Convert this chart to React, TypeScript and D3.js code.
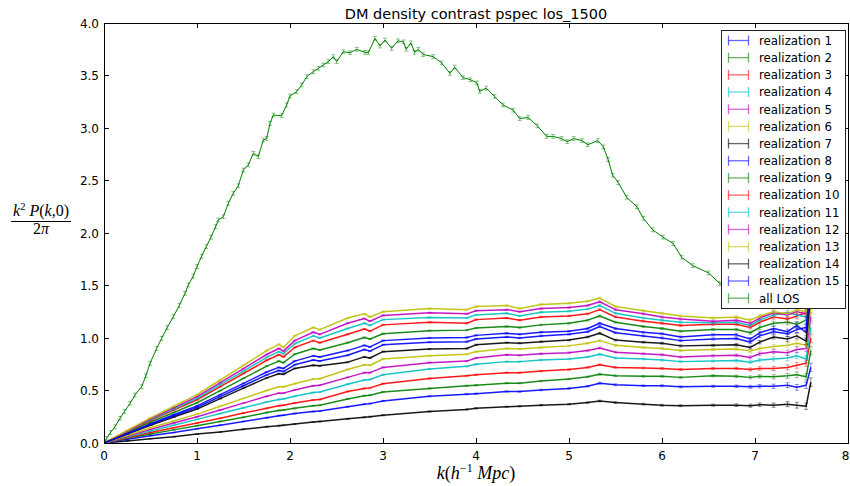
import React from 'react';
import * as d3 from 'd3';

const W = 850;
const H = 486;

const TITLE = 'DM density contrast pspec los_1500';

const xTickValues = [0, 1, 2, 3, 4, 5, 6, 7, 8];
const xTickLabels = ['0', '1', '2', '3', '4', '5', '6', '7', '8'];
const yTickValues = [0, 0.5, 1, 1.5, 2, 2.5, 3, 3.5, 4];
const yTickLabels = ['0.0', '0.5', '1.0', '1.5', '2.0', '2.5', '3.0', '3.5', '4.0'];

// k grid shared by the 15 realizations
const kGrid = [0, 0.25, 0.5, 0.75, 1.0, 1.25, 1.5, 1.75, 1.88, 1.93, 2.05, 2.25, 2.32, 2.62, 2.8, 2.86, 3.0, 3.5, 3.9, 4.0, 4.33, 4.47, 4.7, 5.0, 5.2, 5.33, 5.5, 5.8, 6.0, 6.2, 6.55, 6.8, 6.95, 7.05, 7.2, 7.35, 7.45, 7.55, 7.6];

const real1 = [0, 0.092, 0.184, 0.269, 0.353, 0.461, 0.568, 0.676, 0.72, 0.71, 0.78, 0.83, 0.82, 0.88, 0.93, 0.915, 0.975, 1.0, 1.005, 1.025, 1.045, 1.035, 1.055, 1.065, 1.09, 1.14, 1.09, 1.055, 1.04, 1.01, 1.03, 1.03, 0.99, 1.05, 1.09, 1.06, 1.12, 1.05, 1.55];
const real2 = [0, 0.1, 0.2, 0.291, 0.383, 0.499, 0.616, 0.732, 0.78, 0.765, 0.845, 0.9, 0.885, 0.955, 1.005, 0.99, 1.04, 1.07, 1.075, 1.095, 1.11, 1.1, 1.125, 1.14, 1.17, 1.21, 1.15, 1.11, 1.09, 1.065, 1.08, 1.08, 1.05, 1.1, 1.14, 1.15, 1.13, 1.17, 1.65];
const real3 = [0, 0.107, 0.215, 0.313, 0.412, 0.537, 0.662, 0.788, 0.84, 0.82, 0.91, 0.975, 0.955, 1.035, 1.085, 1.065, 1.125, 1.15, 1.14, 1.175, 1.19, 1.17, 1.2, 1.21, 1.23, 1.27, 1.2, 1.16, 1.14, 1.12, 1.13, 1.13, 1.1, 1.15, 1.2, 1.18, 1.21, 1.24, 1.75];
const real4 = [0, 0.111, 0.222, 0.324, 0.426, 0.556, 0.685, 0.815, 0.87, 0.85, 0.945, 1.02, 1.0, 1.09, 1.14, 1.12, 1.175, 1.195, 1.19, 1.22, 1.235, 1.21, 1.245, 1.255, 1.275, 1.31, 1.235, 1.19, 1.17, 1.15, 1.145, 1.15, 1.12, 1.17, 1.22, 1.24, 1.22, 1.2, 1.8];
const real5 = [0, 0.115, 0.23, 0.335, 0.441, 0.575, 0.709, 0.843, 0.9, 0.875, 0.975, 1.055, 1.035, 1.14, 1.185, 1.16, 1.215, 1.24, 1.23, 1.26, 1.27, 1.25, 1.28, 1.29, 1.31, 1.345, 1.27, 1.23, 1.2, 1.18, 1.16, 1.17, 1.14, 1.19, 1.24, 1.22, 1.25, 1.23, 1.85];
const real6 = [0, 0.12, 0.24, 0.35, 0.46, 0.6, 0.74, 0.88, 0.94, 0.91, 1.02, 1.1, 1.08, 1.19, 1.23, 1.2, 1.25, 1.28, 1.27, 1.3, 1.31, 1.28, 1.32, 1.33, 1.35, 1.38, 1.3, 1.26, 1.235, 1.21, 1.19, 1.2, 1.17, 1.21, 1.25, 1.23, 1.27, 1.25, 1.95];
const real7 = [0, 0.02, 0.04, 0.06, 0.085, 0.105, 0.13, 0.155, 0.165, 0.17, 0.18, 0.2, 0.205, 0.23, 0.245, 0.25, 0.265, 0.3, 0.32, 0.33, 0.345, 0.35, 0.36, 0.37, 0.385, 0.4, 0.385, 0.37, 0.36, 0.355, 0.36, 0.36, 0.355, 0.365, 0.36, 0.37, 0.36, 0.35, 0.58];
const real8 = [0, 0.035, 0.07, 0.1, 0.135, 0.17, 0.205, 0.24, 0.26, 0.265, 0.28, 0.3, 0.305, 0.345, 0.37, 0.375, 0.4, 0.445, 0.465, 0.47, 0.49, 0.49, 0.505, 0.52, 0.54, 0.57, 0.555, 0.545, 0.545, 0.535, 0.54, 0.54, 0.535, 0.54, 0.54, 0.55, 0.53, 0.55, 0.72];
const real9 = [0, 0.045, 0.085, 0.125, 0.165, 0.205, 0.245, 0.29, 0.31, 0.315, 0.33, 0.355, 0.36, 0.42, 0.45, 0.455, 0.485, 0.52, 0.545, 0.55, 0.57, 0.57, 0.59, 0.61, 0.63, 0.655, 0.64, 0.635, 0.635, 0.625, 0.64, 0.635, 0.625, 0.635, 0.63, 0.64, 0.65, 0.63, 0.88];
const real10 = [0, 0.05, 0.1, 0.145, 0.19, 0.235, 0.285, 0.33, 0.355, 0.36, 0.38, 0.41, 0.415, 0.49, 0.52, 0.525, 0.565, 0.615, 0.64, 0.65, 0.67, 0.67, 0.685, 0.7, 0.72, 0.745, 0.72, 0.715, 0.71, 0.7, 0.71, 0.71, 0.7, 0.71, 0.71, 0.72, 0.74, 0.76, 1.0];
const real11 = [0, 0.058, 0.115, 0.17, 0.225, 0.28, 0.335, 0.39, 0.415, 0.42, 0.445, 0.48, 0.485, 0.56, 0.6, 0.605, 0.65, 0.705, 0.73, 0.75, 0.775, 0.775, 0.79, 0.8, 0.82, 0.845, 0.81, 0.8, 0.79, 0.775, 0.78, 0.785, 0.77, 0.79, 0.8, 0.81, 0.83, 0.8, 1.1];
const real12 = [0, 0.065, 0.13, 0.19, 0.25, 0.315, 0.38, 0.445, 0.475, 0.475, 0.505, 0.545, 0.55, 0.625, 0.67, 0.67, 0.72, 0.765, 0.78, 0.81, 0.84, 0.835, 0.85, 0.86, 0.88, 0.905, 0.865, 0.85, 0.84, 0.82, 0.83, 0.835, 0.815, 0.85, 0.87, 0.86, 0.89, 0.9, 1.2];
const real13 = [0, 0.072, 0.145, 0.21, 0.275, 0.35, 0.425, 0.5, 0.535, 0.535, 0.565, 0.61, 0.612, 0.7, 0.745, 0.74, 0.8, 0.83, 0.845, 0.87, 0.9, 0.895, 0.91, 0.925, 0.95, 0.975, 0.93, 0.91, 0.9, 0.88, 0.89, 0.895, 0.875, 0.9, 0.92, 0.93, 0.95, 0.93, 1.3];
const real14 = [0, 0.085, 0.169, 0.247, 0.324, 0.423, 0.522, 0.62, 0.66, 0.655, 0.71, 0.74, 0.735, 0.77, 0.82, 0.81, 0.87, 0.895, 0.9, 0.935, 0.955, 0.95, 0.965, 0.98, 1.01, 1.045, 0.98, 0.96, 0.95, 0.925, 0.93, 0.935, 0.91, 0.96, 1.01, 0.99, 1.02, 0.97, 1.4];
const real15 = [0, 0.088, 0.177, 0.258, 0.339, 0.442, 0.545, 0.649, 0.69, 0.68, 0.745, 0.79, 0.78, 0.835, 0.89, 0.875, 0.935, 0.96, 0.965, 0.99, 1.01, 1.0, 1.02, 1.035, 1.06, 1.11, 1.05, 1.02, 1.0, 0.975, 0.99, 0.995, 0.96, 1.02, 1.06, 1.04, 1.08, 1.1, 1.5];

// approximate error-bar half heights for realizations at each k
const realErr = [0, 0.003, 0.003, 0.003, 0.004, 0.004, 0.004, 0.005, 0.005, 0.005, 0.005, 0.005, 0.005, 0.005, 0.005, 0.005, 0.006, 0.006, 0.006, 0.006, 0.006, 0.006, 0.007, 0.007, 0.007, 0.008, 0.008, 0.008, 0.009, 0.009, 0.01, 0.012, 0.014, 0.016, 0.02, 0.024, 0.028, 0.03, 0.04];

// all LOS curve
const losK = [0, 0.029, 0.07, 0.118, 0.172, 0.22, 0.28, 0.333, 0.405, 0.45, 0.495, 0.566, 0.62, 0.68, 0.745, 0.81, 0.871, 0.907, 0.96, 1.0, 1.05, 1.1, 1.15, 1.2, 1.229, 1.283, 1.337, 1.39, 1.444, 1.498, 1.552, 1.606, 1.659, 1.713, 1.749, 1.785, 1.821, 1.91, 1.964, 2.0, 2.072, 2.126, 2.18, 2.251, 2.305, 2.358, 2.412, 2.466, 2.502, 2.573, 2.645, 2.717, 2.806, 2.842, 2.914, 2.968, 3.022, 3.093, 3.16, 3.22, 3.25, 3.3, 3.34, 3.38, 3.43, 3.54, 3.63, 3.72, 3.77, 3.86, 3.94, 4.01, 4.04, 4.11, 4.2, 4.29, 4.4, 4.47, 4.56, 4.66, 4.76, 4.83, 4.92, 4.98, 5.05, 5.14, 5.2, 5.31, 5.37, 5.42, 5.47, 5.53, 5.62, 5.73, 5.8, 5.9, 6.01, 6.12, 6.21, 6.33, 6.5, 6.62, 6.75, 6.9, 7.05, 7.2, 7.35, 7.45, 7.55, 7.6];
const losP = [0, 0.045, 0.1, 0.155, 0.235, 0.3, 0.378, 0.457, 0.536, 0.64, 0.759, 0.9, 0.997, 1.1, 1.203, 1.31, 1.425, 1.505, 1.59, 1.68, 1.78, 1.87, 1.96, 2.06, 2.124, 2.155, 2.283, 2.378, 2.45, 2.6, 2.648, 2.759, 2.727, 2.886, 2.9, 3.044, 3.124, 3.117, 3.219, 3.305, 3.346, 3.41, 3.489, 3.537, 3.568, 3.6, 3.632, 3.68, 3.632, 3.727, 3.717, 3.749, 3.72, 3.717, 3.854, 3.781, 3.838, 3.759, 3.83, 3.82, 3.75, 3.81, 3.72, 3.75, 3.7, 3.68, 3.62, 3.52, 3.58, 3.48, 3.46, 3.43, 3.35, 3.38, 3.3, 3.22, 3.17, 3.09, 3.1, 3.02, 2.92, 2.92, 2.9, 2.87, 2.9, 2.88, 2.84, 2.88, 2.82, 2.7, 2.55, 2.48, 2.34, 2.25, 2.14, 2.03, 1.96, 1.9, 1.77, 1.69, 1.62, 1.52, 1.46, 1.41, 1.37, 1.34, 1.33, 1.36, 1.45, 2.3];
const losErrBar = 0.018;

const seriesLabels = ['realization 1', 'realization 2', 'realization 3', 'realization 4', 'realization 5', 'realization 6', 'realization 7', 'realization 8', 'realization 9', 'realization 10', 'realization 11', 'realization 12', 'realization 13', 'realization 14', 'realization 15', 'all LOS'];
const realizations = [real1, real2, real3, real4, real5, real6, real7, real8, real9, real10, real11, real12, real13, real14, real15];
const colorCycle = ['#0000ff', '#008000', '#ff0000', '#00bfbf', '#bf00bf', '#bfbf00', '#000000'];

const SANS = 'DejaVu Sans, sans-serif';
const SERIF = 'Liberation Serif, DejaVu Serif, serif';

export default function App() {
  const x = d3.scaleLinear().domain([0, 8]).range([104, 848]);
  const y = d3.scaleLinear().domain([0, 4]).range([443, 23]);
  const line = d3.line<[number, number]>().x(d => x(d[0])).y(d => y(d[1]));

  const [x0, x1] = x.range();
  const [y0, y1] = [y(4), y(0)];
  const tickLen = 5;

  const legendX = 721.5;
  const legendY = 30.5;
  const legendW = 124;
  const legendH = 278;
  const rowGap = 17.18;

  return (
    <svg width={W} height={H} viewBox={`0 0 ${W} ${H}`} style={{ position: 'absolute', left: 0, top: 0, background: '#fff' }}>
      <rect x={0} y={0} width={W} height={H} fill="#fff" />
      <defs>
        <clipPath id="plotclip">
          <rect x={x0} y={y0} width={x1 - x0} height={y1 - y0} />
        </clipPath>
      </defs>

      <g clipPath="url(#plotclip)">
        {realizations.map((vals, si) => {
          const col = colorCycle[si % colorCycle.length];
          const pts = kGrid.map((k, i) => [k, vals[i]] as [number, number]);
          return (
            <g key={si}>
              {pts.map((p, i) => {
                const e = realErr[i];
                if (e <= 0) return null;
                const px = x(p[0]);
                return (
                  <g key={i} stroke={col} strokeOpacity={0.45} strokeWidth={1}>
                    <line x1={px} x2={px} y1={y(p[1] - e)} y2={y(p[1] + e)} />
                    <line x1={px - 2} x2={px + 2} y1={y(p[1] - e)} y2={y(p[1] - e)} />
                    <line x1={px - 2} x2={px + 2} y1={y(p[1] + e)} y2={y(p[1] + e)} />
                  </g>
                );
              })}
              <path d={line(pts) || ''} fill="none" stroke={col} strokeWidth={1.5} strokeOpacity={0.9} strokeLinejoin="round" />
            </g>
          );
        })}

        {/* all LOS */}
        {losK.map((k, i) => {
          const px = x(k);
          const v = losP[i];
          return (
            <g key={'le' + i} stroke="#008000" strokeOpacity={0.45} strokeWidth={1}>
              <line x1={px} x2={px} y1={y(v - losErrBar)} y2={y(v + losErrBar)} />
              <line x1={px - 2} x2={px + 2} y1={y(v - losErrBar)} y2={y(v - losErrBar)} />
              <line x1={px - 2} x2={px + 2} y1={y(v + losErrBar)} y2={y(v + losErrBar)} />
            </g>
          );
        })}
        <path d={line(losK.map((k, i) => [k, losP[i]] as [number, number])) || ''} fill="none" stroke="#008000" strokeWidth={1} />
      </g>

      {/* frame */}
      <rect x={x0} y={y0} width={x1 - x0} height={y1 - y0} fill="none" stroke="#000" strokeWidth={1} shapeRendering="crispEdges" />

      {/* ticks */}
      <g stroke="#000" strokeWidth={1} shapeRendering="crispEdges">
        {xTickValues.map(t => (
          <g key={'xt' + t}>
            <line x1={x(t)} x2={x(t)} y1={y1} y2={y1 - tickLen} />
            <line x1={x(t)} x2={x(t)} y1={y0} y2={y0 + tickLen} />
          </g>
        ))}
        {yTickValues.map(t => (
          <g key={'yt' + t}>
            <line x1={x0} x2={x0 + tickLen} y1={y(t)} y2={y(t)} />
            <line x1={x1} x2={x1 - tickLen} y1={y(t)} y2={y(t)} />
          </g>
        ))}
      </g>

      {/* tick labels */}
      <g fontFamily={SANS} fontSize={12} fill="#000">
        {xTickValues.map((t, i) => (
          <text key={'xl' + t} x={Math.min(x(t), W - 4.5)} y={y1 + 17} textAnchor="middle">{xTickLabels[i]}</text>
        ))}
        {yTickValues.map((t, i) => (
          <text key={'yl' + t} x={x0 - 5} y={y(t) + 4.5} textAnchor="end">{yTickLabels[i]}</text>
        ))}
      </g>

      {/* title */}
      <text x={(x0 + x1) / 2} y={19} textAnchor="middle" fontFamily={SANS} fontSize={14.5} fill="#000">{TITLE}</text>

      {/* x label */}
      <text x={(x0 + x1) / 2} y={479} textAnchor="middle" fontFamily={SERIF} fontSize={18} fill="#000">
        <tspan fontStyle="italic">k</tspan>
        <tspan>(</tspan>
        <tspan fontStyle="italic">h</tspan>
        <tspan fontSize={12} dy={-7}>−1</tspan>
        <tspan dy={7}> </tspan>
        <tspan fontStyle="italic">Mpc</tspan>
        <tspan>)</tspan>
      </text>

      {/* y label as fraction */}
      <text x={41} y={216} textAnchor="middle" fontFamily={SERIF} fontSize={16} fill="#000">
        <tspan fontStyle="italic">k</tspan>
        <tspan fontSize={10.5} dy={-6}>2</tspan>
        <tspan dy={6}> </tspan>
        <tspan fontStyle="italic">P</tspan>
        <tspan>(</tspan>
        <tspan fontStyle="italic">k</tspan>
        <tspan>,0)</tspan>
      </text>
      <line x1={11} x2={71} y1={221.5} y2={221.5} stroke="#000" strokeWidth={1} />
      <text x={41} y={234} textAnchor="middle" fontFamily={SERIF} fontSize={16} fill="#000">
        <tspan>2</tspan>
        <tspan fontStyle="italic">π</tspan>
      </text>

      {/* legend */}
      <rect x={legendX} y={legendY} width={legendW} height={legendH} fill="#fff" stroke="#222" strokeWidth={1} />
      {seriesLabels.map((lab, i) => {
        const cy = 40.5 + i * rowGap;
        const col = i < 15 ? colorCycle[i % colorCycle.length] : '#008000';
        return (
          <g key={'lg' + i}>
            <g stroke={col} strokeOpacity={0.6} strokeWidth={1.3}>
              <line x1={728.5} x2={748.5} y1={cy} y2={cy} />
              <line x1={728.5} x2={728.5} y1={cy - 5} y2={cy + 5} />
              <line x1={748.5} x2={748.5} y1={cy - 5} y2={cy + 5} />
            </g>
            <text x={759} y={cy + 4.3} fontFamily={SANS} fontSize={11.8} fill="#000">{lab}</text>
          </g>
        );
      })}
    </svg>
  );
}
